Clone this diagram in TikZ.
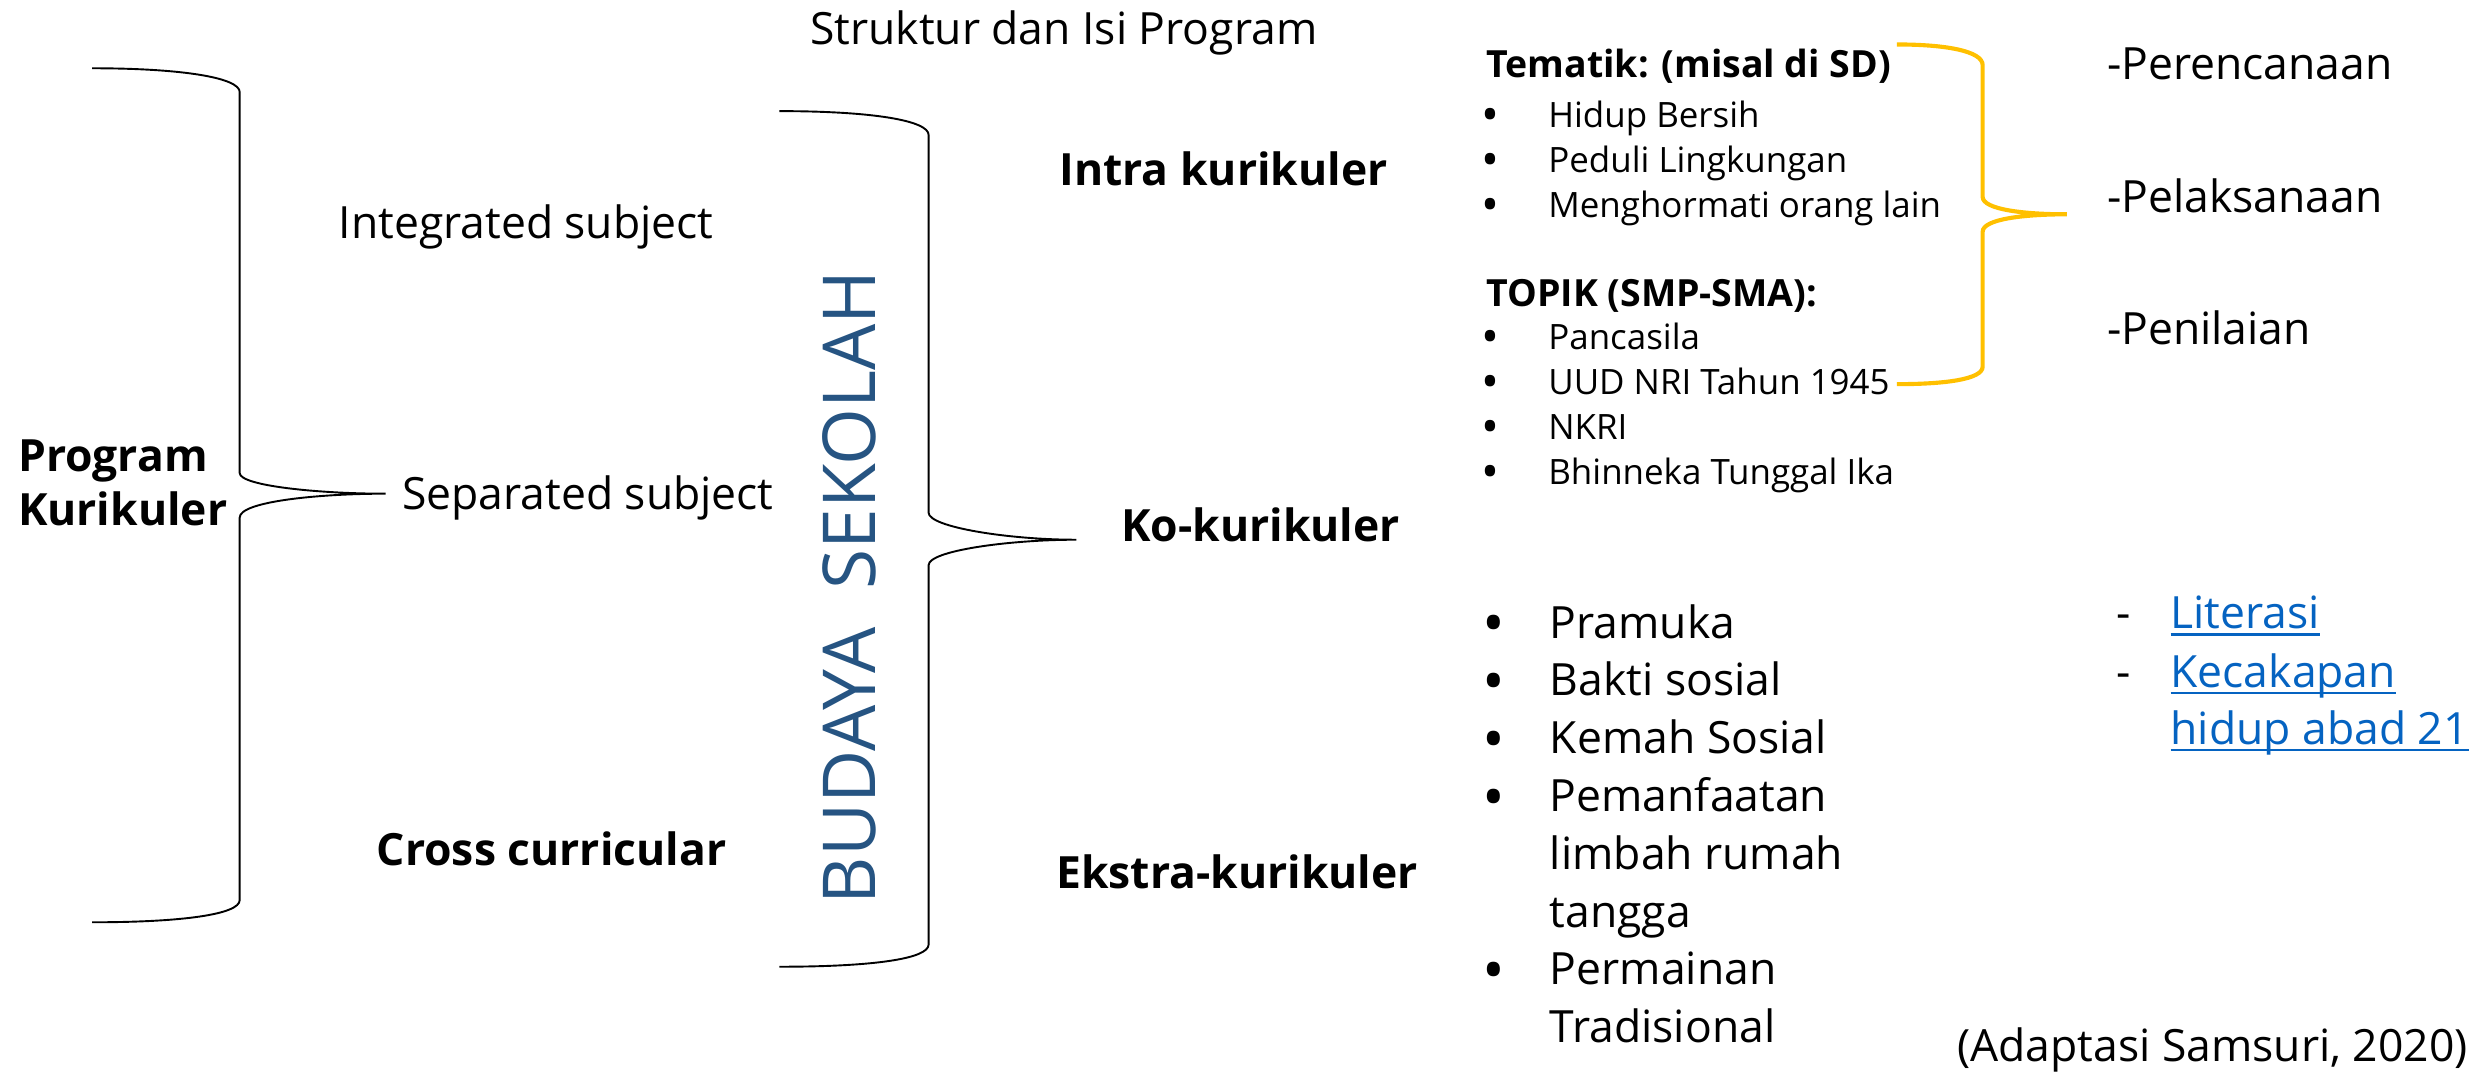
\documentclass[tikz,border=0pt]{standalone}
\usepackage{fontspec}
\setmainfont{Open Sans}
\definecolor{budaya}{RGB}{38,84,130}
\definecolor{kuning}{RGB}{255,192,0}
\definecolor{tautan}{RGB}{5,99,193}
\newcommand\garisbawah[1]{\setbox0\hbox{#1}\rlap{\rule[-2.2pt]{\wd0}{.8pt}}\box0}
\tikzset{
  besar/.style={inner sep=0pt,anchor=base west,font=\fontsize{14}{17}\selectfont},
  tebal/.style={besar,font=\fontsize{14}{17}\selectfont\bfseries},
  kecil/.style={inner sep=0pt,anchor=base west,font=\fontsize{11}{14}\selectfont},
  judulkecil/.style={kecil,font=\fontsize{11.8}{14}\selectfont\bfseries},
  titik/.style={inner sep=0pt,anchor=center,font=\fontsize{#1}{#1}\selectfont},
  kurung/.style={line width=.6pt},
}
\begin{document}
\begin{tikzpicture}[x=.5pt,y=-.5pt]
    \useasboundingbox (0,0) rectangle (1568,676);
    \node[besar] (judul) at (510,28) {Struktur dan Isi Program};
    % kolom kiri
    \node[tebal,anchor=west,align=left] (prog) at (11,304) {Program\\Kurikuler};
    \draw[kurung] (58,43) .. controls (115,43) and (151,49) .. (151,58) -- (151,298)
      .. controls (151,306) and (200,311) .. (243,311) .. controls (200,311) and (151,316) .. (151,326)
      -- (151,567) .. controls (151,576) and (115,581) .. (58,581);
    \node[besar] (integ) at (213,150) {Integrated subject};
    \node[besar] (separ) at (253,321) {Separated subject};
    \node[tebal] (cross) at (237,545) {Cross curricular};
    \node[inner sep=0pt,rotate=90,text=budaya,font=\fontsize{23}{26}\selectfont] (budaya) at (535,370) {BUDAYA\ \ SEKOLAH};
    \draw[kurung] (491,70) .. controls (550,70) and (585,76) .. (585,85) -- (585,323)
      .. controls (585,332) and (635,340) .. (678,340) .. controls (635,340) and (585,347) .. (585,356)
      -- (585,595) .. controls (585,604) and (550,609) .. (491,609);
    % kolom tengah
    \node[tebal] (intra) at (667,117) {Intra kurikuler};
    \node[tebal] (ko) at (706,341) {Ko-kurikuler};
    \node[tebal] (ekstra) at (665,560) {Ekstra-kurikuler};
    \node[judulkecil] (tema) at (936,49) {Tematik: (misal di SD)};
    \foreach \t [count=\i from 0] in {Hidup Bersih,Peduli Lingkungan,Menghormati orang lain}
    \node[kecil] (t\i) at (975,{80+28.5*\i}) {\t};
    \node[judulkecil] (topik) at (936,193) {TOPIK (SMP-SMA):};
    \foreach \t [count=\i from 0] in {Pancasila,UUD NRI Tahun 1945,NKRI,Bhinneka Tunggal Ika}
    \node[kecil] (p\i) at (975,{220+28.3*\i}) {\t};
    \foreach \y in {75.5,104,132.5,215.5,243.8,272.1,300.4}
    \node[titik=15] at (939,\y) {\textbullet};
    \draw[kuning,line width=1.3pt] (1195,28) .. controls (1225,28) and (1249,32) .. (1249,41) -- (1249,124)
      .. controls (1249,132) and (1275,135) .. (1302,135) .. controls (1275,135) and (1249,138) .. (1249,146)
      -- (1249,231) .. controls (1249,239) and (1225,242) .. (1195,242);
    % ekstra
    \foreach \t [count=\i from 0] in {Pramuka,Bakti sosial,Kemah Sosial,Pemanfaatan,limbah rumah,tangga,Permainan,Tradisional}
    \node[besar] (e\i) at (976,{402+36.4*\i}) {\t};
    \foreach \i in {0,1,2,3,6}
    \node[titik=19] at (941,{397+36.4*\i}) {\textbullet};
    % kolom kanan
    \node[besar] (renc) at (1327,50) {-Perencanaan};
    \node[besar] (laks) at (1327,134) {-Pelaksanaan};
    \node[besar] (nilai) at (1327,217) {-Penilaian};
    \node[besar] at (1333,396) {-};
    \node[besar] at (1333,433) {-};
    \node[besar,text=tautan] (lit) at (1367,396) {\garisbawah{Literasi}};
    \node[besar,text=tautan] (cakap) at (1367,433) {\garisbawah{Kecakapan}};
    \node[besar,text=tautan] (abad) at (1367,469) {\garisbawah{hidup abad 21}};
    \node[besar,anchor=base east] (sumber) at (1555,669) {(Adaptasi Samsuri, 2020)};
\end{tikzpicture}
\end{document}
